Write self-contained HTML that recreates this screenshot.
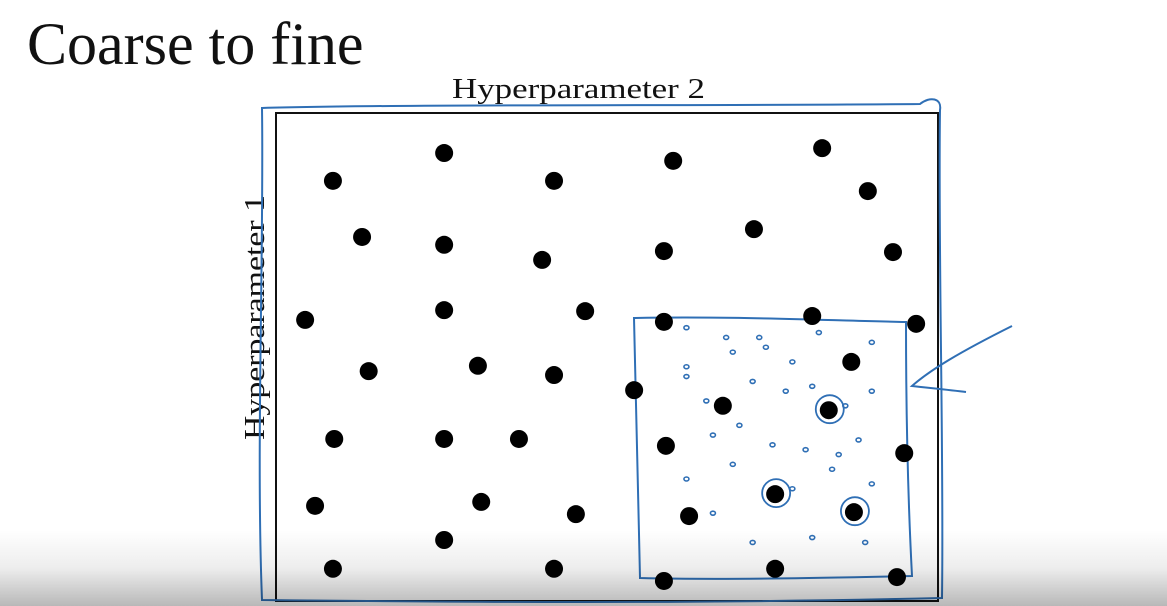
<!DOCTYPE html>
<html><head><meta charset="utf-8"><style>
html,body{margin:0;padding:0;background:#fff;}
body{width:1167px;height:606px;overflow:hidden;position:relative;font-family:"Liberation Serif",serif;}
#title{position:absolute;left:27px;top:14px;font-size:60px;line-height:1;color:#111;width:345px;}
#shade{position:absolute;left:0;top:530px;width:1167px;height:76px;background:linear-gradient(rgba(0,0,0,0),rgba(0,0,0,0.07) 50%,rgba(0,0,0,0.28));}
</style></head><body>
<div id="title">Coarse to fine</div>
<svg id="chart" width="1167" height="606" style="position:absolute;left:0;top:0">
<rect x="276" y="113" width="662" height="488" fill="none" stroke="#111" stroke-width="2"/>
<text x="452" y="98" textLength="253" lengthAdjust="spacingAndGlyphs" font-size="29" font-family="Liberation Serif, serif" fill="#111">Hyperparameter 2</text>
<text transform="translate(264,440) rotate(-90)" textLength="245" lengthAdjust="spacingAndGlyphs" font-size="29" font-family="Liberation Serif, serif" fill="#111">Hyperparameter 1</text>
<path d="M262,108 C400,104 700,106 920,104 C930,96 942,98 940,110 C938,250 944,450 942,598 C700,604 450,602 262,600 C256,450 264,250 262,108 Z" fill="none" stroke="#2f6fb5" stroke-width="2"/>
<path d="M634,318 C720,316 820,320 906,322 C906,420 908,500 912,576 C820,578 720,580 640,578 C638,490 636,400 634,318 Z" fill="none" stroke="#2f6fb5" stroke-width="2"/>
<path d="M1012,326 C960,352 930,370 912,386 C930,388 950,390 966,392" fill="none" stroke="#2f6fb5" stroke-width="2"/>
<g id="scribbles"></g>
<g id="dots"></g>
</svg>
<div id="shade"></div>
<script>
// Coarse grid samples (x: % of hyperparameter 2 range, y: % from top of hyperparameter 1 range)
const xVals=[25.4,60.0,82.5,8.6,42.0,89.4,13.0,25.4,40.2,58.6,72.2,93.2,4.4,25.4,46.7,58.6,81.0,96.7,14.0,30.5,42.0,54.1,86.9,67.5,83.5,8.8,25.4,36.7,58.9,94.9,5.9,31.0,45.3,62.4,75.4,87.3,25.4,8.6,42.0,58.6,75.4,93.8];
const yVals=[8.2,9.8,7.2,13.9,13.9,16.0,25.4,27.0,30.1,28.3,23.8,28.5,42.4,40.4,40.6,42.8,41.6,43.2,52.9,51.8,53.7,56.8,51.0,60.0,60.9,66.8,66.8,66.8,68.2,69.7,80.5,79.7,82.2,82.6,78.1,81.8,87.5,93.4,93.4,95.9,93.4,95.1];
// Fine samples in zoomed region
const fxVals=[62,68,73,74,82,90,62,69,78,87,62,65,72,77,81,86,90,66,70,75,80,85,88,62,69,78,84,90,66,72,81,89];
const fyVals=[44,46,46,48,45,47,52,49,51,52,54,59,55,57,56,60,57,66,64,68,69,70,67,75,72,77,73,76,82,88,87,88];
const circled=[[83.5,60.9],[75.4,78.1],[87.3,81.8]];
const X0=276,W=662,Y0=113,H=488;
const sx=v=>X0+v/100*W, sy=v=>Y0+v/100*H;
const ns='http://www.w3.org/2000/svg';
const dots=document.getElementById('dots');
xVals.forEach((v,i)=>{const c=document.createElementNS(ns,'circle');
c.setAttribute('cx',sx(v));c.setAttribute('cy',sy(yVals[i]));c.setAttribute('r',9);c.setAttribute('fill','#000');


dots.appendChild(c);});
circled.forEach(p=>{const c=document.createElementNS(ns,'circle');
c.setAttribute('cx',sx(p[0])+1);c.setAttribute('cy',sy(p[1])-1);c.setAttribute('r',14);c.setAttribute('fill','none');c.setAttribute('stroke','#2f6fb5');c.setAttribute('stroke-width','1.8');


dots.appendChild(c);});
const sc=document.getElementById('scribbles');
fxVals.forEach((v,i)=>{const c=document.createElementNS(ns,'ellipse');
c.setAttribute('cx',sx(v));c.setAttribute('cy',sy(fyVals[i]));c.setAttribute('rx',2.5);c.setAttribute('ry',2);c.setAttribute('fill','none');c.setAttribute('stroke','#2f6fb5');c.setAttribute('stroke-width','1.6');


sc.appendChild(c);});
</script>
</body></html>
